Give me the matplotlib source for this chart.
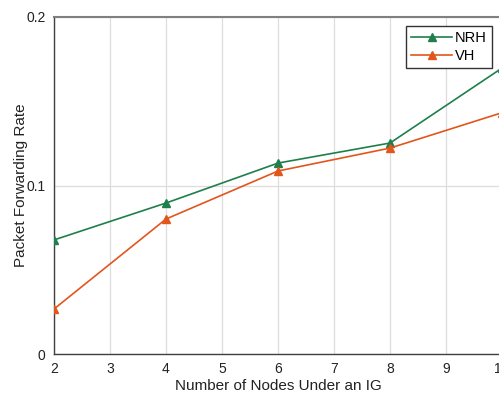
import matplotlib
matplotlib.use("Agg")
import matplotlib.pyplot as plt

plt.rcParams['font.family'] = ['Liberation Sans', 'DejaVu Sans']

nodes = [2, 4, 6, 8, 10]
nrh = [0.0677, 0.0896, 0.1133, 0.1252, 0.1697]
vh = [0.0267, 0.0801, 0.1086, 0.1222, 0.1432]
x_ticks = [2, 3, 4, 5, 6, 7, 8, 9, 10]
y_ticks = [0, 0.1, 0.2]
y_ticklabels = ['0', '0.1', '0.2']

green = '#1f7f4c'
orange = '#e2561c'

fig = plt.figure(figsize=(4.99, 3.94), dpi=100)
ax = fig.add_axes([54/499, 40/394, 448/499, 337/394])

ax.plot(nodes, nrh, color=green, marker='^', markersize=6, linewidth=1.2, label='NRH', zorder=3)
ax.plot(nodes, vh, color=orange, marker='^', markersize=6, linewidth=1.2, label='VH', zorder=3)

ax.set_xlim(2, 10)
ax.set_ylim(0, 0.2)
ax.set_xticks(x_ticks)
ax.set_yticks(y_ticks)
ax.set_yticklabels(y_ticklabels)
ax.grid(True, color='#dddddd', linewidth=0.9)
ax.set_axisbelow(True)
for s in ['left', 'bottom']:
    ax.spines[s].set_color('#404040')
    ax.spines[s].set_linewidth(1.0)
ax.spines['top'].set_color('#808080')
ax.spines['top'].set_linewidth(1.5)
ax.spines['right'].set_visible(False)
ax.tick_params(axis='both', length=0, labelsize=10, colors='#222222', pad=6)

ax.set_xlabel('Number of Nodes Under an IG', fontsize=11, color='#222222', labelpad=2)
ax.set_ylabel('Packet Forwarding Rate', fontsize=11, color='#222222')
ax.yaxis.set_label_coords(-0.058, 0.5)

leg = ax.legend(loc='upper right', bbox_to_anchor=(492/499, 1 - 26/394), bbox_transform=fig.transFigure,
                fancybox=False, framealpha=1, edgecolor='#333333', fontsize=10.5,
                handlelength=2.8, borderpad=0.35, labelspacing=0.25, handletextpad=0.2, borderaxespad=0)
leg.get_frame().set_linewidth(1.0)

fig.savefig('out.png', dpi=100)
